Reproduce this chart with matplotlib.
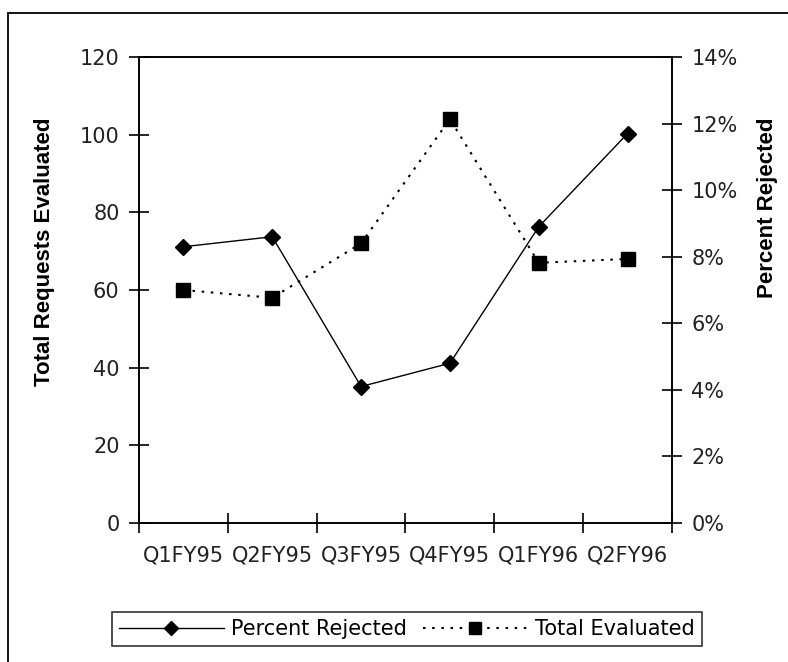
import numpy as np
import matplotlib
matplotlib.use("Agg")
from matplotlib import pyplot as plt
from matplotlib.ticker import FuncFormatter, FixedLocator
from matplotlib.patches import Rectangle
from matplotlib.lines import Line2D

quarters = ['Q1FY95', 'Q2FY95', 'Q3FY95', 'Q4FY95', 'Q1FY96', 'Q2FY96']
total_evaluated = [60, 58, 72, 104, 67, 68]
percent_rejected = [0.083, 0.086, 0.041, 0.048, 0.089, 0.117]

left_ticks = [0, 20, 40, 60, 80, 100, 120]
right_ticks = [0, 0.02, 0.04, 0.06, 0.08, 0.10, 0.12, 0.14]

W, H = 788, 662
fig = plt.figure(figsize=(W / 100, H / 100), dpi=100)
fig.patch.set_facecolor('#ffffff')

# outer chart frame (cut off at right/bottom like the reference)
fig.patches.append(Rectangle((8 / W, -0.1), 1.2, 1.1 - 13 / H,
                             transform=fig.transFigure, fill=False,
                             edgecolor='black', linewidth=1.3, clip_on=False))

ax = fig.add_axes([139 / W, 1 - 523 / H, 533 / W, 466 / H])
ax2 = ax.twinx()

x = np.arange(len(quarters))

ax.plot(x, total_evaluated, color='black', linestyle=(0, (1.2, 3.2)), linewidth=1.5,
        marker='s', markersize=10, label='Total Evaluated')
ax2.plot(x, percent_rejected, color='black', linestyle='-', linewidth=1.0,
         marker='D', markersize=8.5, label='Percent Rejected')

ax.set_xlim(-0.5, len(quarters) - 0.5)
ax.set_ylim(0, 120)
ax2.set_ylim(0, 0.14)

ax.yaxis.set_major_locator(FixedLocator(left_ticks))
ax2.yaxis.set_major_locator(FixedLocator(right_ticks))
ax2.yaxis.set_major_formatter(FuncFormatter(lambda v, p: f'{v * 100:.0f}%'))

ax.xaxis.set_major_locator(FixedLocator(np.arange(-0.5, len(quarters))))
ax.xaxis.set_major_formatter(FuncFormatter(lambda v, p: ''))
ax.set_xticks(x, quarters, minor=True)

for a in (ax, ax2):
    a.tick_params(axis='both', which='major', direction='inout', length=14,
                  width=1.2, color='black', labelsize=15, pad=7)
    for s in a.spines.values():
        s.set_linewidth(1.2)
ax.tick_params(axis='x', which='minor', length=0, labelsize=15, pad=16)
for lab in ax.get_xticklabels(minor=True) + ax.get_yticklabels() + ax2.get_yticklabels():
    lab.set_fontfamily('DejaVu Sans')
    lab.set_color('#222222')

fig.text(45 / W, 1 - 252 / H, 'Total Requests Evaluated', rotation=90,
         ha='center', va='center', fontsize=16, fontweight='bold',
         family='Liberation Sans')
fig.text(768 / W, 1 - 208 / H, 'Percent Rejected', rotation=90,
         ha='center', va='center', fontsize=16, fontweight='bold',
         family='Liberation Sans')

handles = [
    Line2D([], [], color='black', linewidth=1.0, marker='D', markersize=7.5),
    Line2D([], [], color='black', linewidth=1.5, linestyle=(0, (1.2, 3.2)),
           marker='s', markersize=8),
]
leg = fig.legend(handles, ['Percent Rejected', 'Total Evaluated'], ncol=2,
                 loc='center', bbox_to_anchor=(407 / W, 1 - 629 / H),
                 prop=dict(family='DejaVu Sans', size=15), frameon=True,
                 fancybox=False, handlelength=5.0, handletextpad=0.35,
                 columnspacing=0.8, borderpad=0.35, borderaxespad=0)
leg.get_frame().set_edgecolor('black')
leg.get_frame().set_linewidth(1.2)

fig.savefig('out.png', dpi=100)
